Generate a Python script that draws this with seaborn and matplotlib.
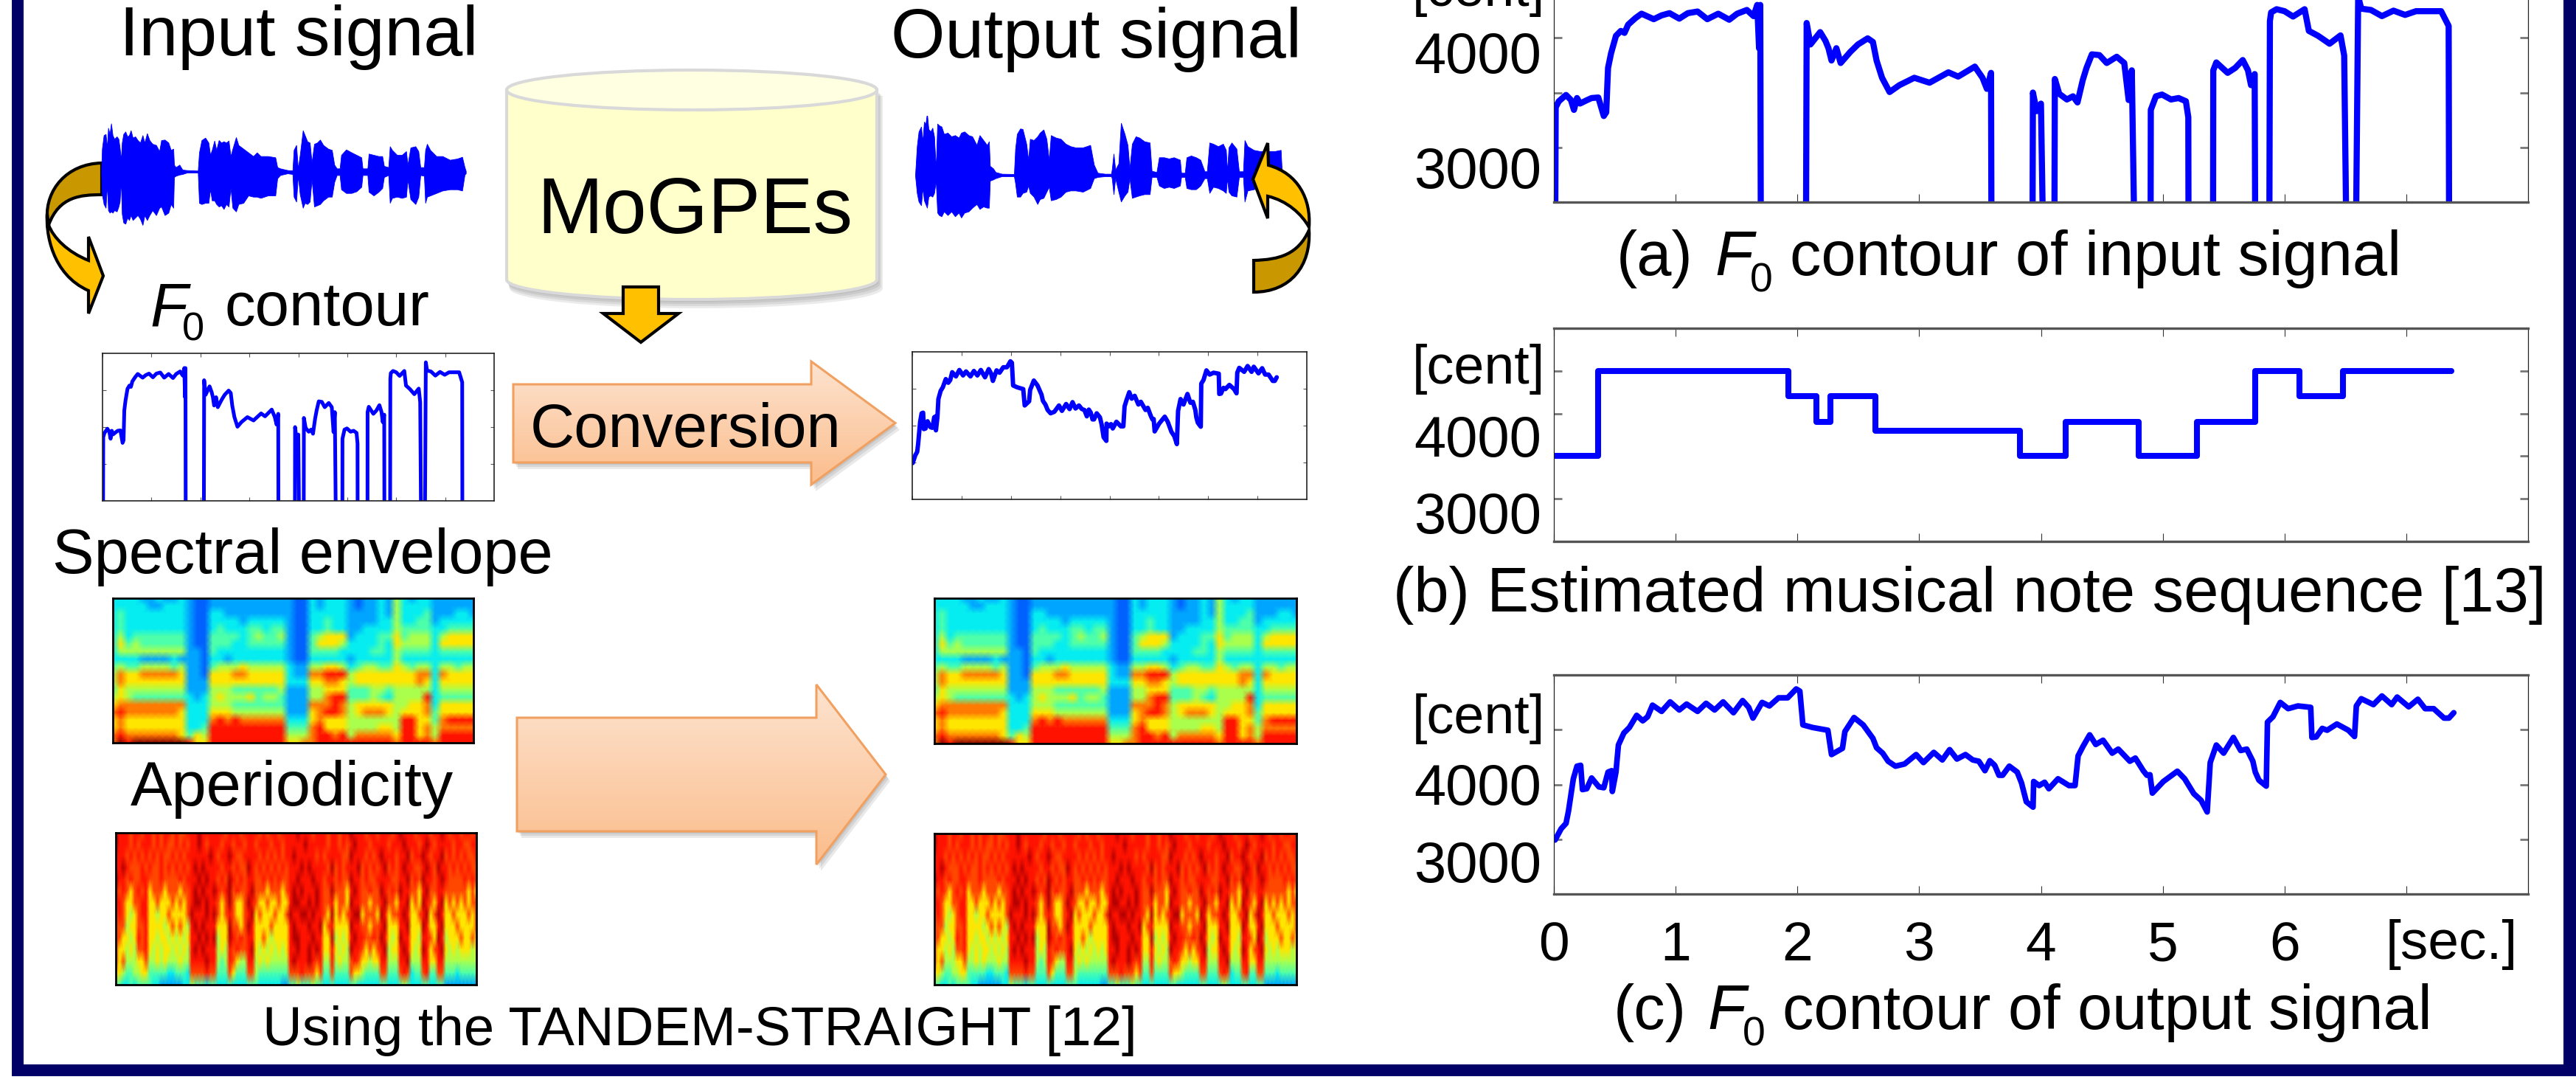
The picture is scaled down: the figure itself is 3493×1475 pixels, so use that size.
import numpy as np
import pandas as pd
import matplotlib
matplotlib.use("Agg")
import matplotlib.pyplot as plt
import seaborn as sns
from matplotlib.colors import LinearSegmentedColormap
from matplotlib.path import Path
from matplotlib.patches import PathPatch, Polygon, Rectangle

W, H = 3493, 1475
BLUE = "#0000ff"
NAVY = "#000066"

# F0 contour of the input signal, [sec.] and [cent]; 2000 = unvoiced, below the axis
F0_IN_SEC = [0.01, 0.015, 0.04, 0.10, 0.14, 0.165, 0.19, 0.215, 0.27, 0.31, 0.365, 0.41, 0.43, 0.445, 0.47, 0.51, 0.55, 0.58, 0.61,
             0.67, 0.72, 0.77, 0.82, 0.885, 0.95, 1.03, 1.10, 1.18, 1.26, 1.35, 1.44, 1.505, 1.585, 1.64, 1.67, 1.685, 1.695, 1.70,
             2.07, 2.076, 2.107, 2.187, 2.23, 2.255, 2.28, 2.32, 2.355, 2.435, 2.497, 2.577, 2.62, 2.65, 2.695, 2.757, 2.838, 2.96,
             3.085, 3.24, 3.32, 3.457, 3.52, 3.556, 3.59, 3.594,
             3.93, 3.934, 3.965, 4.00, 4.02,
             4.11, 4.114, 4.15, 4.213, 4.263, 4.30, 4.343, 4.374, 4.418, 4.48, 4.54, 4.622, 4.684, 4.72, 4.746, 4.77,
             4.90, 4.902, 4.944, 4.994, 5.068, 5.13, 5.19, 5.21, 5.212,
             5.413, 5.415, 5.44, 5.533, 5.595, 5.657, 5.70, 5.725, 5.755, 5.76,
             5.875, 5.88, 5.89, 5.935, 6.0, 6.07, 6.165, 6.2, 6.276, 6.37, 6.46, 6.49, 6.51,
             6.585, 6.605, 6.63, 6.71, 6.80, 6.895, 6.99, 7.08, 7.286, 7.348, 7.352]
F0_IN_CENT = [2000, 3365, 3420, 3478, 3433, 3342, 3450, 3400, 3430, 3450, 3455, 3286, 3320, 3725, 3860, 4018, 4063, 4045, 4120,
              4180, 4220, 4195, 4170, 4205, 4225, 4175, 4225, 4240, 4170, 4220, 4165, 4220, 4254, 4198, 4300, 3905, 4300, 2000,
              2000, 4135, 3939, 4052, 3973, 3905, 3793, 3905, 3770, 3872, 3939, 3995, 3962, 3793, 3635, 3505, 3568, 3635,
              3590, 3685, 3646, 3737, 3635, 3534, 3680, 2000,
              2000, 3500, 3331, 3399, 2000,
              2000, 3624, 3489, 3437, 3466, 3410, 3613, 3725, 3849, 3842, 3770, 3827, 3770, 3432, 3703, 2000,
              2000, 3342, 3466, 3482, 3437, 3450, 3421, 3275, 2000,
              2000, 3703, 3775, 3680, 3725, 3797, 3703, 3568, 3669, 2000,
              2000, 4153, 4232, 4261, 4243, 4194, 4261, 4063, 4018, 3946, 4022, 3838, 2000,
              2000, 4378, 4266, 4254, 4198, 4248, 4209, 4243, 4243, 4108, 2000]

# estimated note sequence
NOTE_SEC = [0, 0.365, 1.927, 2.156, 2.268, 2.64, 3.83, 4.2, 4.80, 5.28, 5.76, 6.12, 6.48, 7.37]
NOTE_CENT = [3500, 4500, 4200, 3900, 4200, 3800, 3500, 3900, 3500, 3900, 4500, 4200, 4500, 4500]

# F0 contour of the output signal
F0_OUT_SEC = [0.01, 0.06, 0.10, 0.12, 0.16, 0.19, 0.22, 0.235, 0.27, 0.31, 0.37, 0.41, 0.445, 0.475, 0.48, 0.51, 0.53, 0.575, 0.62,
              0.68, 0.73, 0.77, 0.81, 0.885, 0.955, 1.03, 1.09, 1.18, 1.25, 1.32, 1.39, 1.475, 1.55, 1.60, 1.635, 1.71, 1.77, 1.845,
              1.92, 1.99, 2.02, 2.045, 2.125, 2.25, 2.28, 2.37, 2.39, 2.465, 2.54, 2.62, 2.65, 2.70, 2.745, 2.805, 2.88, 2.975, 3.035,
              3.12, 3.19, 3.25, 3.31, 3.38, 3.44, 3.49, 3.54, 3.58, 3.62, 3.655, 3.685, 3.74, 3.805, 3.84, 3.88, 3.935, 3.94, 3.985,
              4.03, 4.065, 4.14, 4.23, 4.28, 4.305, 4.345, 4.40, 4.45, 4.51, 4.585, 4.635, 4.73, 4.775, 4.84, 4.87, 4.895, 4.915,
              5.005, 5.12, 5.18, 5.255, 5.315, 5.365, 5.39, 5.44, 5.50, 5.58, 5.64, 5.69, 5.74, 5.76, 5.79, 5.85, 5.86, 5.905, 5.965,
              6.03, 6.11, 6.215, 6.225, 6.26, 6.31, 6.35, 6.43, 6.525, 6.575, 6.59, 6.63, 6.73, 6.80, 6.88, 6.925, 7.02, 7.095, 7.155,
              7.225, 7.31, 7.35, 7.39]
F0_OUT_CENT = [2993, 3096, 3145, 3256, 3552, 3667, 3675, 3453, 3461, 3559, 3478, 3470, 3613, 3626, 3436, 3613, 3860, 3970, 4020,
               4131, 4081, 4118, 4224, 4167, 4254, 4180, 4234, 4167, 4241, 4180, 4254, 4155, 4266, 4204, 4106, 4249, 4217, 4291,
               4291, 4372, 4352, 4044, 4020, 3995, 3773, 3830, 3983, 4111, 4044, 3921, 3835, 3786, 3712, 3667, 3687, 3773, 3700,
               3793, 3724, 3818, 3732, 3773, 3724, 3712, 3626, 3717, 3675, 3584, 3584, 3667, 3613, 3515, 3342, 3293, 3527, 3490,
               3520, 3461, 3552, 3490, 3490, 3761, 3847, 3953, 3865, 3904, 3786, 3823, 3712, 3741, 3626, 3584, 3589, 3421,
               3527, 3621, 3552, 3416, 3355, 3249, 3700, 3860, 3786, 3929, 3810, 3823, 3712, 3613, 3539, 3485, 4069, 4118, 4249,
               4192, 4217, 4204, 3929, 3934, 4012, 3995, 4052, 3995, 3938, 4217, 4283, 4229, 4308, 4229, 4298, 4209, 4278, 4192,
               4192, 4106, 4106, 4155]

# waveform envelopes: frame, upper and lower amplitude
WAVE_IN_FRAME = [22, 25, 32, 40, 45, 50, 56, 62, 68, 75, 85, 92, 97, 102, 106, 112, 120, 128, 135, 142, 150, 160, 170, 180, 190, 198, 208, 218,
                 230, 245, 258, 266, 280, 295, 305, 315, 318, 325, 340, 352, 370, 415, 420, 430, 445, 458, 465, 472, 482, 490, 500, 510, 520,
                 530, 540, 548, 556, 570, 580, 600, 620, 640, 655, 670, 700, 730, 738, 750, 780, 800, 805, 815, 822, 830, 842, 850, 860, 870,
                 878, 888, 900, 912, 925, 945, 960, 970, 980, 992, 998, 1018, 1040, 1060, 1080, 1085, 1105, 1110, 1130, 1150, 1165, 1172, 1190,
                 1196, 1205, 1225, 1245, 1262, 1268, 1280, 1300, 1312, 1320, 1335, 1340, 1347, 1360, 1385, 1410, 1440, 1470, 1490, 1500, 1505]
WAVE_IN_UP = [3, 93, 148, 153, 98, 178, 153, 196, 148, 133, 143, 133, 98, 48, 118, 153, 163, 143, 148, 168, 138, 143, 128, 118, 148, 118, 156, 128,
              113, 108, 83, 128, 130, 118, 88, 93, 28, 18, 28, 8, 6, 4, 78, 128, 138, 118, 68, 88, 126, 88, 128, 118, 123,
              118, 126, 63, 93, 140, 108, 93, 78, 63, 78, 63, 63, 58, 18, 13, 6, 5, 88, 108, 13, 68, 168, 148, 123, 118,
              38, 113, 118, 130, 108, 93, 88, 28, 13, 13, 68, 90, 78, 68, 58, 13, 13, 73, 68, 63, 63, 23, 18,
              103, 88, 68, 68, 83, 28, 98, 103, 83, 18, 18, 88, 113, 88, 63, 63, 48, 53, 60, 18, 3]
WAVE_IN_LOW = [-2, -92, -132, -147, -52, -157, -167, -162, -167, -157, -162, -142, -122, -37, -172, -207, -212, -187, -197, -177, -197, -187, -177, -192, -217, -177, -197, -177,
               -157, -177, -147, -142, -177, -167, -132, -147, -22, -17, -12, -10, -4, -4, -127, -132, -127, -127, -72, -117, -117, -132, -142, -137, -152,
               -132, -142, -67, -147, -162, -132, -127, -97, -102, -102, -107, -97, -97, -27, -14, -7, -10, -102, -122, -17, -92, -147, -127, -132, -122,
               -32, -142, -137, -132, -117, -102, -102, -42, -14, -14, -72, -87, -87, -80, -62, -14, -14, -82, -97, -82, -67, -22, -14,
               -127, -107, -102, -107, -102, -32, -112, -132, -102, -14, -17, -127, -102, -97, -87, -77, -72, -72, -77, -12, -7]

WAVE_OUT_FRAME = [18, 25, 32, 42, 48, 54, 60, 66, 72, 80, 88, 95, 102, 108, 115, 125, 135, 150, 165, 180, 195, 205, 218, 235, 250, 268, 280, 295,
                  310, 318, 322, 335, 345, 370, 420, 425, 432, 445, 455, 470, 478, 485, 500, 515, 525, 540, 552, 562, 570, 590, 610, 630, 650,
                  670, 700, 730, 745, 760, 790, 815, 818, 825, 832, 845, 855, 870, 882, 890, 900, 915, 930, 950, 972, 980, 1000, 1010, 1030,
                  1050, 1070, 1095, 1100, 1115, 1122, 1140, 1160, 1178, 1195, 1205, 1215, 1230, 1250, 1270, 1282, 1287, 1293, 1305, 1325,
                  1335, 1352, 1358, 1370, 1395, 1420, 1450, 1480, 1505, 1510]
WAVE_OUT_UP = [2, 117, 177, 197, 137, 217, 207, 252, 187, 177, 192, 157, 27, 209, 202, 197, 167, 172, 157, 162, 152, 172, 177, 162, 157, 122, 162, 142,
               122, 137, 37, 27, 12, 5, 4, 107, 167, 189, 187, 127, 62, 147, 142, 157, 172, 185, 147, 62, 162, 152, 147, 127, 117,
               112, 112, 122, 42, 9, 5, 5, 22, 87, 22, 47, 212, 167, 122, 27, 127, 157, 152, 137, 132, 17, 12, 72, 72,
               67, 72, 62, 9, 9, 72, 79, 72, 62, 15, 15, 132, 127, 117, 127, 102, 15, 112, 132, 107,
               15, 15, 142, 117, 102, 97, 97, 97, 102, 7]
WAVE_OUT_LOW = [-3, -73, -108, -123, -53, -103, -118, -133, -88, -83, -88, -73, -23, -153, -163, -168, -148, -163, -148, -168, -153, -173, -153, -148, -133, -118, -138, -128,
                -133, -133, -23, -18, -13, -5, -5, -33, -88, -88, -73, -68, -43, -73, -88, -118, -98, -93, -68, -48, -103, -98, -88, -68, -63,
                -63, -68, -53, -13, -8, -5, -5, -13, -78, -13, -68, -108, -83, -68, -13, -93, -88, -83, -78, -78, -8, -8, -43, -53,
                -48, -53, -43, -8, -8, -53, -58, -58, -43, -13, -13, -73, -48, -53, -63, -73, -13, -68, -83, -88,
                -8, -8, -108, -63, -58, -48, -33, -33, -23, -8]

# spectrogram levels read by eye, top row = highest frequency
SPECTRAL_ROWS = [
    "3|3|3|3223223|211|22|222|22222|211|3|2|333|2122|32|5|32|3|3|2|22222",
    "3|3|3|3322333|211|22|222|22222|211|3|2|333|2122|32|5|33|3|3|2|22222",
    "3|4|3|3333333|211|33|222|22222|211|3|3|333|2222|32|5|33|3|4|2|22332",
    "3|4|3|3333333|211|33|332|33333|211|3|3|433|2222|33|5|33|4|4|2|33333",
    "3|4|3|3333333|211|34|333|44344|211|3|3|433|2233|33|5|44|4|4|3|34444",
    "3|5|3|4444444|211|44|443|45445|211|4|5|666|2333|44|6|45|5|5|3|56666",
    "3|6|4|5444444|211|44|433|44444|211|4|6|665|3333|43|6|55|5|5|3|66666",
    "3|5|5|5555555|221|43|333|33333|211|4|4|443|3334|43|5|44|4|4|3|44444",
    "3|3|3|3222232|221|33|233|33333|211|3|3|333|2333|33|5|33|3|3|3|33333",
    "4|5|4|4555545|221|45|556|55555|322|5|5|665|3455|44|6|54|5|5|3|55455",
    "5|7|6|6777776|221|66|677|66666|322|7|7|888|5666|66|6|66|7|7|3|76666",
    "5|7|6|6666666|222|66|666|66666|333|6|6|776|5666|66|6|66|7|6|3|66666",
    "4|6|5|5555555|222|55|544|44445|222|5|5|666|4445|54|5|55|5|5|3|55555",
    "5|6|5|4444444|323|56|555|64554|222|5|5|788|4445|43|5|55|5|8|3|44444",
    "6|7|7|7777777|333|55|544|44444|222|7|7|787|5666|66|5|56|6|7|3|66666",
    "7|8|7|7777776|333|66|655|55555|222|6|7|887|5677|76|5|66|6|7|4|66666",
    "6|7|6|6666666|333|78|787|77777|333|6|7|666|5555|55|5|88|6|6|4|78888",
    "6|7|6|6666666|334|88|888|88888|444|7|8|666|5555|66|5|88|6|7|5|77777",
    "7|8|7|7777776|465|88|888|88888|555|7|8|878|5777|77|6|88|6|7|5|88888",
    "7|9|8|9999999|866|88|888|88888|667|7|8|888|8888|88|7|88|8|8|7|88888",
]
APERIODICITY_ROWS = [
    "988|878|878|87878878778|8898888|887|8|8878|88|878788788|889888788|87|8|8788|988|87887|88|878|988|878|88|78|89|878878878",
    "988|878|788|87878778787|8898788|878|8|7887|88|788878878|888898888|87|8|8787|898|88788|88|788|898|887|89|87|88|887887788",
    "888|787|878|78787787878|8888898|788|9|8778|88|878787878|898888878|78|8|8877|988|87878|98|887|889|788|98|78|89|787878778",
    "889|877|787|87787878787|8989888|878|8|7877|98|787878787|888989888|87|9|7878|889|78787|89|787|898|877|89|87|98|878787877",
    "988|787|788|77787777878|8898988|787|9|8787|88|778787877|889888988|78|8|7877|988|78778|88|877|889|787|98|87|89|877778787",
    "878|767|878|67776777677|8989889|878|9|7877|89|777677767|898988898|77|9|7776|898|77877|98|787|988|776|89|77|88|777777676",
    "887|667|788|66766676767|8998988|767|9|7667|98|766766766|899889898|77|8|6776|988|77677|89|776|889|676|98|76|89|676767677",
    "787|656|788|66566766667|9888989|767|8|7667|89|676667667|988998988|76|9|6767|899|67776|98|677|898|667|89|67|98|667666767",
    "777|566|778|66665676765|8989888|666|9|7767|98|666676666|898889889|67|8|6666|988|77677|89|666|889|666|98|66|89|666766667",
    "776|656|878|66566565656|8898989|566|9|8787|88|667656666|899888988|66|9|5656|898|87787|98|656|988|665|88|76|98|566676676",
    "766|565|778|65656656565|8989888|565|8|7877|89|656565656|889889898|66|8|6565|988|76767|89|566|898|656|98|67|89|656566656",
    "767|555|667|55656555655|8888988|545|8|7655|88|565655555|898889878|55|8|5655|787|66566|88|555|889|555|88|66|88|555555555",
    "665|445|566|44444334443|7777877|444|7|6444|77|544444444|777877767|44|7|4444|766|54444|77|444|787|344|78|44|77|444344444",
    "443|343|444|43322222233|5444344|333|4|3333|44|433333322|445444544|33|4|3333|443|33333|44|333|454|333|44|33|44|222222222",
]
# what each typed level means on the jet scale of 0-9
SPECTRAL_LEVELS = {1: 2.0, 2: 2.6, 3: 3.2, 4: 4, 5: 5, 6: 6, 7: 7, 8: 8, 9: 9}
APERIODICITY_LEVELS = {2: 2.6, 3: 3.2, 4: 4, 5: 5, 6: 6, 7: 7.5, 8: 8, 9: 8.6}

X_TICKS = [0, 1, 2, 3, 4, 5, 6, 7]
X_LABELS = ["0", "1", "2", "3", "4", "5", "6", ""]

sns.set_theme(style="white")
plt.rcParams["font.family"] = ["Liberation Sans", "DejaVu Sans"]

fig = plt.figure(figsize=(W / 100, H / 100), dpi=100, facecolor="white")


def axes_px(x0, y0, x1, y1, zorder=1):
    ax = fig.add_axes([x0 / W, 1 - y1 / H, (x1 - x0) / W, (y1 - y0) / H], zorder=zorder)
    ax.patch.set_alpha(0)
    return ax


def draw_contour(ax, sec, cent, lw, **kws):
    df = pd.DataFrame({"sec": sec, "cent": cent})
    sns.lineplot(data=df, x="sec", y="cent", ax=ax, color=BLUE, lw=lw, estimator=None, sort=False,
                 legend=False, **kws)
    ax.set_xlabel("")
    ax.set_ylabel("")


def style_panel(ax, ylim, yticks, big=True):
    ax.set_xlim(0, 8)
    ax.set_ylim(*ylim)
    ax.set_xticks(X_TICKS)
    ax.set_yticks(yticks)
    ax.set_xticklabels([])
    ax.set_yticklabels([])
    if big:
        ax.tick_params(axis="y", direction="in", left=True, right=True, length=8, width=2, color="#777777")
        ax.tick_params(axis="x", direction="in", bottom=True, top=True, length=8, width=0.8, color="#333333")
        for s in ["top", "bottom"]:
            ax.spines[s].set(linewidth=2.4, color="#555555", zorder=5)
        for s in ["left", "right"]:
            ax.spines[s].set(linewidth=0.9, color="#222222", zorder=5)
    else:
        ax.tick_params(axis="both", direction="in", left=True, right=True, bottom=True, top=True, length=3.5,
                       width=0.8, color="#555555")
        for s in ax.spines.values():
            s.set(linewidth=1.2, color="#222222")
            s.set_visible(True)


def draw_wave(ax, frames, up, low):
    ax.fill_between(frames, low, up, color=BLUE, lw=0.6)
    ax.set_xlim(0, 1530)
    ax.set_ylim(-240, 240)
    ax.axis("off")


def draw_spectrogram(box, rows, levels):
    ax = axes_px(*box)
    data = np.array([[levels[int(c)] for c in r.replace("|", "")] for r in rows], dtype=float)
    sns.heatmap(data, ax=ax, cmap="jet", vmin=0, vmax=9, cbar=False, xticklabels=False, yticklabels=False,
                shading="gouraud")
    ax.set_xlim(0, data.shape[1] - 1)
    ax.set_ylim(data.shape[0] - 1, 0)
    for s in ax.spines.values():
        s.set_visible(True)
        s.set(linewidth=2, color="black")


back = axes_px(0, 0, W, H, zorder=0)
front = axes_px(0, 0, W, H, zorder=5)
for a in (back, front):
    a.set_xlim(0, W)
    a.set_ylim(H, 0)
    a.axis("off")

MOVE, LINE, CURVE, CLOSE = Path.MOVETO, Path.LINETO, Path.CURVE4, Path.CLOSEPOLY
peach = LinearSegmentedColormap.from_list("peach", ["#fde3cf", "#fbbd8c"])


def block_arrow(x0, x_sh, x_tip, y_top, y_bot, y_head_top, y_head_bot):
    yc = (y_head_top + y_head_bot) / 2
    pts = [(x0, y_top), (x_sh, y_top), (x_sh, y_head_top), (x_tip, yc), (x_sh, y_head_bot), (x_sh, y_bot), (x0, y_bot)]
    for i in range(3, 0, -1):
        back.add_patch(Polygon([(x + i * 2, y + i * 3) for x, y in pts], closed=True, fc="#555555", ec="none",
                               alpha=0.13, zorder=1))
    body = Polygon(pts, closed=True, fc="none", ec="#f0a060", lw=2.2, zorder=3)
    back.add_patch(body)
    im = back.imshow(np.linspace(0, 1, 64)[:, None], extent=(x0, x_tip, y_head_bot, y_head_top), aspect="auto",
                     cmap=peach, zorder=2)
    im.set_clip_path(body)


block_arrow(696, 1100, 1214, 521, 627, 490, 657)
block_arrow(701, 1107, 1201, 973, 1127, 928, 1172)


def half_ellipse(x0, x1, y, ry):
    k = 0.5523
    cx, rx = (x0 + x1) / 2, (x1 - x0) / 2
    return [(x0, y + k * ry), (cx - k * rx, y + ry), (cx, y + ry),
            (cx + k * rx, y + ry), (x1, y + k * ry), (x1, y)]


def cylinder(x0, x1, y_top, y_bot, ry, **kws):
    v = [(x0, y_top), (x0, y_bot)] + half_ellipse(x0, x1, y_bot, ry) + [(x1, y_top), (x0, y_top)]
    c = [MOVE, LINE] + [CURVE] * 6 + [LINE, CLOSE]
    back.add_patch(PathPatch(Path(v, c), **kws))


for i in range(4, 0, -1):
    cylinder(687 + i, 1189 + i * 2, 122 + i * 2, 379 + i * 3, 27, fc="#444444", ec="none", alpha=0.1, zorder=1)
cylinder(687, 1189, 122, 379, 27, fc="#ffffcc", ec="#d9d9d9", lw=3, zorder=2)
top_v = [(687, 122)] + half_ellipse(687, 1189, 122, 27) + half_ellipse(1189, 687, 122, -27)
top_c = [MOVE] + [CURVE] * 12
back.add_patch(PathPatch(Path(top_v, top_c), fc="#ffffe2", ec="#d9d9d9", lw=3, zorder=3))

back.add_patch(Polygon([(845, 389), (893, 389), (893, 425), (920, 425), (869, 464), (818, 425), (845, 425)],
                       closed=True, fc="#ffc000", ec="black", lw=3, joinstyle="miter", zorder=4))

# curved arrows
bright_l = Path([(64, 290), (62, 315), (70, 372), (120, 394), (120, 425), (140, 374), (120, 321), (120, 353), (92, 342), (72, 322), (66, 305), (64, 290)],
                [MOVE, CURVE, CURVE, CURVE, LINE, LINE, LINE, LINE, CURVE, CURVE, CURVE, CLOSE])
dark_l = Path([(138, 221), (90, 222), (62, 258), (64, 295), (66, 305), (80, 266), (110, 264), (138, 264), (138, 221)],
              [MOVE, CURVE, CURVE, CURVE, LINE, CURVE, CURVE, CURVE, CLOSE])
back.add_patch(PathPatch(dark_l, fc="#c99700", ec="black", lw=3, zorder=4))
back.add_patch(PathPatch(bright_l, fc="#ffc000", ec="black", lw=3, zorder=4))
dark_r = Path([(1700, 396), (1750, 396), (1778, 360), (1775, 312), (1760, 345), (1735, 352), (1700, 353), (1700, 396)],
              [MOVE, CURVE, CURVE, CURVE, CURVE, CURVE, CURVE, CLOSE])
bright_r = Path([(1719, 194), (1699, 243), (1719, 296), (1719, 266), (1745, 272), (1765, 290), (1775, 308), (1778, 270), (1760, 235), (1720, 224), (1719, 194)],
                [MOVE, LINE, LINE, LINE, CURVE, CURVE, CURVE, CURVE, CURVE, CURVE, CLOSE])
front.add_patch(PathPatch(dark_r, fc="#c99700", ec="black", lw=3, zorder=4))
front.add_patch(PathPatch(bright_r, fc="#ffc000", ec="black", lw=3, zorder=4))

# frame of the slide
back.add_patch(Rectangle((16, 0), 16, 1459, fc=NAVY, ec="none"))
back.add_patch(Rectangle((3476, 0), 17, 1459, fc=NAVY, ec="none"))
back.add_patch(Rectangle((16, 1443), 3477, 16, fc=NAVY, ec="none"))

# waveforms
draw_wave(axes_px(130, 152.7, 640, 312.7), WAVE_IN_FRAME, WAVE_IN_UP, WAVE_IN_LOW)
draw_wave(axes_px(1235, 157.3, 1745, 317.3), WAVE_OUT_FRAME, WAVE_OUT_UP, WAVE_OUT_LOW)

# F0 thumbnails
ax = axes_px(139, 479, 670, 679)
draw_contour(ax, F0_IN_SEC, F0_IN_CENT, 3.6)
style_panel(ax, (2500, 4500), [3000, 3500, 4000], big=False)
ax = axes_px(1237, 477, 1772, 677)
draw_contour(ax, F0_OUT_SEC, F0_OUT_CENT, 4.3)
style_panel(ax, (2500, 4500), [3000, 3500, 4000], big=False)

# spectrograms
draw_spectrogram((153, 811, 642, 1007), SPECTRAL_ROWS, SPECTRAL_LEVELS)
draw_spectrogram((1267, 811, 1758, 1008), SPECTRAL_ROWS, SPECTRAL_LEVELS)
draw_spectrogram((157, 1129, 646, 1335), APERIODICITY_ROWS, APERIODICITY_LEVELS)
draw_spectrogram((1267, 1130, 1758, 1335), APERIODICITY_ROWS, APERIODICITY_LEVELS)

# right column
ax = axes_px(2107, -23, 3428, 274)
draw_contour(ax, F0_IN_SEC, F0_IN_CENT, 6)
style_panel(ax, (2500, 4500), [3000, 3500, 4000])

ax = axes_px(2107, 445, 3428, 734)
draw_contour(ax, NOTE_SEC, NOTE_CENT, 5.8, drawstyle="steps-post")
style_panel(ax, (2500, 5000), [3000, 3500, 4000, 4500])

ax = axes_px(2107, 915, 3428, 1212)
draw_contour(ax, F0_OUT_SEC, F0_OUT_CENT, 5.5)
style_panel(ax, (2500, 4500), [3000, 3500, 4000])
ax.set_xticklabels(X_LABELS, fontsize=54, color="black")
ax.tick_params(axis="x", pad=26)


def txt(x, y, s, size, **kws):
    front.text(x, y, s, fontsize=size, color="black", va="baseline", **kws)


# text blocks of the left side
txt(162, 75, "Input signal", 68.5)
txt(1208, 78, "Output signal", 68)
txt(203, 441, "F", 60, style="italic")
txt(247, 461, "0", 39)
txt(305, 441, "contour", 60)
txt(728, 316, "MoGPEs", 77)
txt(719, 606, "Conversion", 60)
txt(71, 777, "Spectral envelope", 61)
txt(177, 1092, "Aperiodicity", 61)
txt(356, 1417, "Using the TANDEM-STRAIGHT [12]", 53.6)

# panel labels of the right side
for y_cent, y_4000, y_3000 in [(8, 99, 255), (520, 619, 723), (994, 1091, 1196)]:
    txt(1915, y_cent, "[cent]", 53)
    txt(1917, y_4000, "4000", 56)
    txt(1917, y_3000, "3000", 56)
txt(3235, 1300, "[sec.]", 54)

for x0, x_f, x_0, x_c, y, head, tail in [(2192, 2325, 2373, 2427, 373, "(a)", "contour of input signal"),
                                         (2188, 2315, 2363, 2417, 1395, "(c)", "contour of output signal")]:
    txt(x0, y, head, 61)
    txt(x_f, y, "F", 61, style="italic")
    txt(x_0, y + 22, "0", 40)
    txt(x_c, y, tail, 61)
txt(1889, 829, "(b) Estimated musical note sequence [13]", 61.2)

for a in (back, front):
    a.set_xlim(0, W)
    a.set_ylim(H, 0)

fig.savefig("out.png", dpi=100, facecolor="white")
